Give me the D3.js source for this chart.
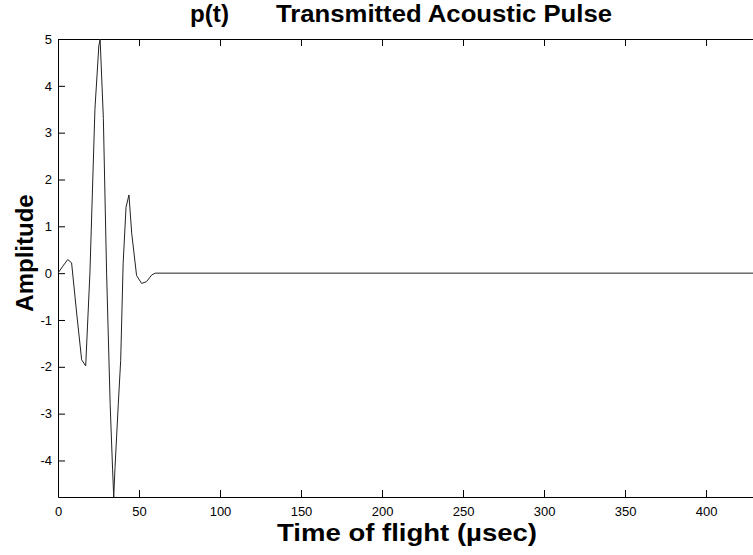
<!DOCTYPE html>
<html>
<head>
<meta charset="utf-8">
<script src="https://cdn.jsdelivr.net/npm/d3@7"></script>
<style>
  html, body { margin: 0; padding: 0; background: #fff; }
  svg { display: block; }
</style>
</head>
<body>
<svg id="chart" width="753" height="555"></svg>
<script>
// Data (time in µs, amplitude)
const times = [0, 3, 6, 8.4, 11.5, 14.6, 17.1, 19.7, 22.8, 25.2, 26, 28, 30, 32.2, 33.7, 34.4, 35.2, 37.2, 38.7, 40.2, 42, 43.8, 45.5, 48.5, 51.6, 54.7, 57.8, 60, 429];
const amplitude = [0, 0.15, 0.29, 0.22, -0.85, -1.85, -1.98, 0, 3.5, 4.85, 5.0, 3.3, 0, -2.8, -4.2, -4.78, -4.15, -2.8, -1.86, 0.2, 1.41, 1.67, 0.85, -0.05, -0.22, -0.18, -0.04, 0, 0];
const xTicks = [0, 50, 100, 150, 200, 250, 300, 350, 400];
const yTicks = [-4, -3, -2, -1, 0, 1, 2, 3, 4, 5];
const titleLeft = "p(t)";
const titleRight = "Transmitted Acoustic Pulse";
const xLabel = "Time of flight (\u00b5sec)";
const yLabel = "Amplitude";

(function () {
const svg = d3.select("#chart");
const mLeft = 58, mRight = 753, mTop = 39, mBottom = 497;

const x = d3.scaleLinear().domain([0, 429]).range([mLeft, mRight]);
const y = d3.scaleLinear().domain([-4.78, 5]).range([mBottom, mTop]);

const tickFont = "'Liberation Sans Narrow', 'Liberation Sans', Arial, sans-serif";
const boldFont = "'Liberation Sans', Arial, Helvetica, sans-serif";
const fmt = d => String(d);

// Bottom axis
const gx = svg.append("g").attr("transform", `translate(0,${mBottom})`)
  .call(d3.axisBottom(x).tickValues(xTicks).tickFormat(fmt).tickSizeInner(-7).tickSizeOuter(0).tickPadding(10));
// Top axis (ticks only)
const gxt = svg.append("g").attr("transform", `translate(0,${mTop})`)
  .call(d3.axisTop(x).tickValues(xTicks).tickFormat("").tickSizeInner(-7).tickSizeOuter(0));
// Left axis
const gy = svg.append("g").attr("transform", `translate(${mLeft},0)`)
  .call(d3.axisLeft(y).tickValues(yTicks).tickFormat(fmt).tickSizeInner(-7).tickSizeOuter(0).tickPadding(6));

[gx, gxt, gy].forEach(g => {
  g.selectAll("path.domain").attr("stroke", "#000").attr("stroke-width", 1);
  g.selectAll(".tick line").attr("stroke", "#000");
  g.selectAll("text").attr("fill", "#000").attr("font-family", tickFont).attr("font-size", 13);
});

// Curve
const pts = times.map((t, i) => [t, amplitude[i]]);
const line = d3.line().x(d => x(d[0])).y(d => y(d[1]));
svg.append("path").datum(pts)
  .attr("d", line)
  .attr("fill", "none")
  .attr("stroke", "#222")
  .attr("stroke-width", 1);

// Title
svg.append("text").attr("x", 190).attr("y", 22)
  .attr("font-family", boldFont).attr("font-weight", "bold").attr("font-size", 23)
  .attr("fill", "#000").attr("textLength", 39).attr("lengthAdjust", "spacingAndGlyphs").text(titleLeft);
svg.append("text").attr("x", 276).attr("y", 22)
  .attr("font-family", boldFont).attr("font-weight", "bold").attr("font-size", 23)
  .attr("fill", "#000").attr("textLength", 336).attr("lengthAdjust", "spacingAndGlyphs").text(titleRight);

// X label
svg.append("text").attr("x", 277).attr("y", 541)
  .attr("font-family", boldFont).attr("font-weight", "bold").attr("font-size", 24)
  .attr("fill", "#000").attr("textLength", 260).attr("lengthAdjust", "spacingAndGlyphs").text(xLabel);

// Y label
svg.append("text").attr("transform", `translate(33,253) rotate(-90)`)
  .attr("text-anchor", "middle")
  .attr("font-family", boldFont).attr("font-weight", "bold").attr("font-size", 24)
  .attr("fill", "#000").text(yLabel);
})();
</script>
</body>
</html>
